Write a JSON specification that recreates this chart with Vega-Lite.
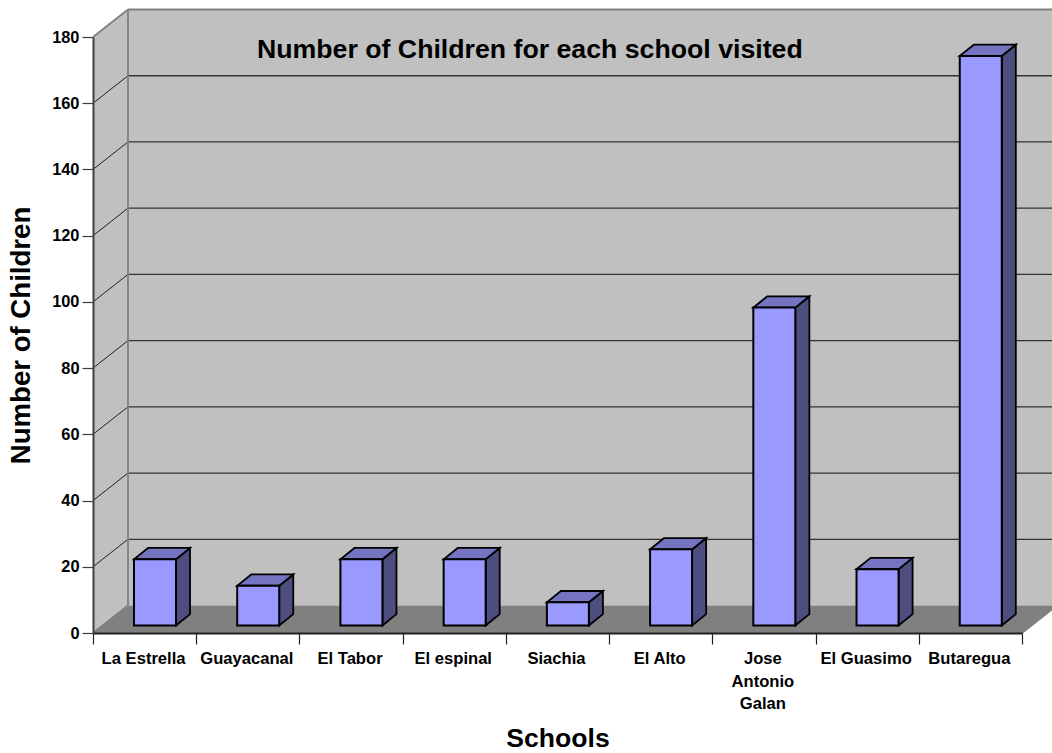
{
  "$schema": "https://vega.github.io/schema/vega-lite/v6.json",
  "width": 929,
  "height": 596,
  "autosize": "none",
  "padding": {"left": 93, "top": 37, "right": 30, "bottom": 120},
  "background": "white",
  "title": {
    "text": "Number of Children for each school visited",
    "anchor": "start",
    "frame": "group",
    "dx": 164,
    "offset": -76,
    "baseline": "alphabetic",
    "font": "Liberation Sans",
    "fontSize": 26.7,
    "fontWeight": "bold",
    "color": "black"
  },
  "datasets": {
    "schools": [
      {"order": 0, "school": "La Estrella", "label": "La Estrella", "children": 20},
      {"order": 1, "school": "Guayacanal", "label": "Guayacanal", "children": 12},
      {"order": 2, "school": "El Tabor", "label": "El Tabor", "children": 20},
      {"order": 3, "school": "El espinal", "label": "El espinal", "children": 20},
      {"order": 4, "school": "Siachia", "label": "Siachia", "children": 7},
      {"order": 5, "school": "El Alto", "label": "El Alto", "children": 23},
      {"order": 6, "school": "Jose Antonio Galan", "label": "Jose\nAntonio\nGalan", "children": 96},
      {"order": 7, "school": "El Guasimo", "label": "El Guasimo", "children": 17},
      {"order": 8, "school": "Butaregua", "label": "Butaregua", "children": 172}
    ],
    "levels": [
      {"level": 20}, {"level": 40}, {"level": 60}, {"level": 80},
      {"level": 100}, {"level": 120}, {"level": 140}, {"level": 160}
    ],
    "depth": [{"d": 0}, {"d": 1}]
  },
  "data": {"name": "schools"},
  "layer": [
    {
      "description": "Back wall, carrying the shared axes",
      "data": {"values": [{}]},
      "mark": {"type": "rect", "fill": "#C0C0C0"},
      "encoding": {
        "x": {
          "datum": 0.339,
          "type": "quantitative",
          "scale": {"domain": [0, 9], "nice": false, "zero": false},
          "axis": {
            "title": "Schools",
            "titleFont": "Liberation Sans",
            "titleFontSize": 26.6,
            "titleFontWeight": "bold",
            "titleColor": "black",
            "titleBaseline": "alphabetic",
            "titleY": 113,
            "values": [0, 1, 2, 3, 4, 5, 6, 7, 8, 9],
            "labels": false,
            "grid": false,
            "tickSize": 11,
            "tickColor": "#202020",
            "tickWidth": 1.2,
            "domainColor": "#202020",
            "domainWidth": 2,
            "zindex": 1
          }
        },
        "x2": {"datum": 9.339},
        "y": {
          "datum": 8.3,
          "type": "quantitative",
          "scale": {"domain": [0, 180], "nice": false, "zero": false},
          "axis": {
            "title": "Number of Children",
            "titleFont": "Liberation Sans",
            "titleFontSize": 27.6,
            "titleFontWeight": "bold",
            "titleColor": "black",
            "titleX": -72,
            "titleBaseline": "middle",
            "values": [0, 20, 40, 60, 80, 100, 120, 140, 160, 180],
            "labelFont": "Liberation Sans",
            "labelFontSize": 16.4,
            "labelFontWeight": "bold",
            "labelColor": "black",
            "labelPadding": 3,
            "grid": false,
            "tickSize": 11,
            "tickColor": "#404040",
            "tickWidth": 1.2,
            "domainColor": "#404040",
            "domainWidth": 2,
            "zindex": 1
          }
        },
        "y2": {"datum": 188.3}
      }
    },
    {
      "description": "Left wall",
      "data": {"name": "depth"},
      "transform": [
        {"calculate": "datum.d * 0.339", "as": "px"},
        {"calculate": "datum.d * 8.3", "as": "low"},
        {"calculate": "180 + datum.d * 8.3", "as": "high"}
      ],
      "mark": {"type": "area", "fill": "#C0C0C0"},
      "encoding": {
        "x": {"field": "px", "type": "quantitative"},
        "y": {"field": "low", "type": "quantitative"},
        "y2": {"field": "high"}
      }
    },
    {
      "description": "Floor",
      "data": {"name": "depth"},
      "transform": [
        {"calculate": "datum.d * 8.3", "as": "py"},
        {"calculate": "datum.d * 0.339", "as": "near"},
        {"calculate": "9 + datum.d * 0.339", "as": "far"}
      ],
      "mark": {"type": "area", "orient": "horizontal", "fill": "#808080"},
      "encoding": {
        "y": {"field": "py", "type": "quantitative"},
        "x": {"field": "near", "type": "quantitative"},
        "x2": {"field": "far"}
      }
    },
    {
      "description": "Gridlines across the back wall",
      "data": {"name": "levels"},
      "transform": [{"calculate": "datum.level + 8.3", "as": "back"}],
      "mark": {"type": "rule", "color": "#333333", "strokeWidth": 1.3},
      "encoding": {
        "x": {"datum": 0.339, "type": "quantitative"},
        "x2": {"datum": 9.339},
        "y": {"field": "back", "type": "quantitative"}
      }
    },
    {
      "description": "Gridlines running up the left wall",
      "data": {"name": "levels"},
      "transform": [{"calculate": "datum.level + 8.3", "as": "back"}],
      "mark": {"type": "rule", "color": "#202020", "strokeWidth": 1},
      "encoding": {
        "x": {"datum": 0, "type": "quantitative"},
        "x2": {"datum": 0.339},
        "y": {"field": "level", "type": "quantitative"},
        "y2": {"field": "back"}
      }
    },
    {
      "description": "Wall outlines: corner, top edge, and the two diagonals",
      "data": {"values": [
        {"x": 0.339, "x2": 0.339, "y": 8.3, "y2": 188.3},
        {"x": 0.339, "x2": 9.339, "y": 188.3, "y2": 188.3},
        {"x": 0, "x2": 0.339, "y": 180, "y2": 188.3},
        {"x": 0, "x2": 0.339, "y": 0, "y2": 8.3},
        {"x": 9, "x2": 9.339, "y": 0, "y2": 8.3}
      ]},
      "mark": {"type": "rule", "color": "#808080", "strokeWidth": 1.8},
      "encoding": {
        "x": {"field": "x", "type": "quantitative"},
        "x2": {"field": "x2"},
        "y": {"field": "y", "type": "quantitative"},
        "y2": {"field": "y2"}
      }
    },
    {
      "description": "Bar side faces",
      "transform": [
        {"calculate": "[0, 1]", "as": "d"},
        {"flatten": ["d"]},
        {"calculate": "datum.order + 0.804 + datum.d * 0.136", "as": "sx"},
        {"calculate": "2.27 + datum.d * 3.41", "as": "base"},
        {"calculate": "2.27 + datum.children + datum.d * 3.41", "as": "top"}
      ],
      "mark": {"type": "area", "fill": "#4D4D80", "stroke": "black", "strokeWidth": 1.8},
      "encoding": {
        "x": {"field": "sx", "type": "quantitative"},
        "y": {"field": "base", "type": "quantitative"},
        "y2": {"field": "top"},
        "detail": {"field": "school"}
      }
    },
    {
      "description": "Bar top faces",
      "transform": [
        {"calculate": "[0, 1]", "as": "d"},
        {"flatten": ["d"]},
        {"calculate": "2.27 + datum.children + datum.d * 3.41", "as": "ty"},
        {"calculate": "datum.order + 0.397 + datum.d * 0.136", "as": "tl"},
        {"calculate": "datum.order + 0.804 + datum.d * 0.136", "as": "tr"}
      ],
      "mark": {"type": "area", "orient": "horizontal", "fill": "#7474C0", "stroke": "black", "strokeWidth": 1.8},
      "encoding": {
        "y": {"field": "ty", "type": "quantitative"},
        "x": {"field": "tl", "type": "quantitative"},
        "x2": {"field": "tr"},
        "detail": {"field": "school"}
      }
    },
    {
      "description": "Bar front faces",
      "transform": [
        {"calculate": "datum.order + 0.397", "as": "fl"},
        {"calculate": "datum.order + 0.804", "as": "fr"},
        {"calculate": "2.27 + datum.children", "as": "ft"},
        {"calculate": "2.27", "as": "fb"}
      ],
      "mark": {"type": "rect", "fill": "#9999FF", "stroke": "black", "strokeWidth": 2},
      "encoding": {
        "x": {"field": "fl", "type": "quantitative"},
        "x2": {"field": "fr"},
        "y": {"field": "fb", "type": "quantitative"},
        "y2": {"field": "ft"}
      }
    },
    {
      "description": "School names under the axis",
      "transform": [{"calculate": "datum.order + 0.49", "as": "mid"}],
      "mark": {
        "type": "text",
        "font": "Liberation Sans",
        "fontSize": 16.6,
        "fontWeight": "bold",
        "color": "black",
        "baseline": "alphabetic",
        "align": "center",
        "dy": 31,
        "lineBreak": "\n",
        "lineHeight": 22.5
      },
      "encoding": {
        "x": {"field": "mid", "type": "quantitative"},
        "y": {"datum": 0, "type": "quantitative"},
        "text": {"field": "label"}
      }
    }
  ],
  "config": {"view": {"stroke": null}}
}
